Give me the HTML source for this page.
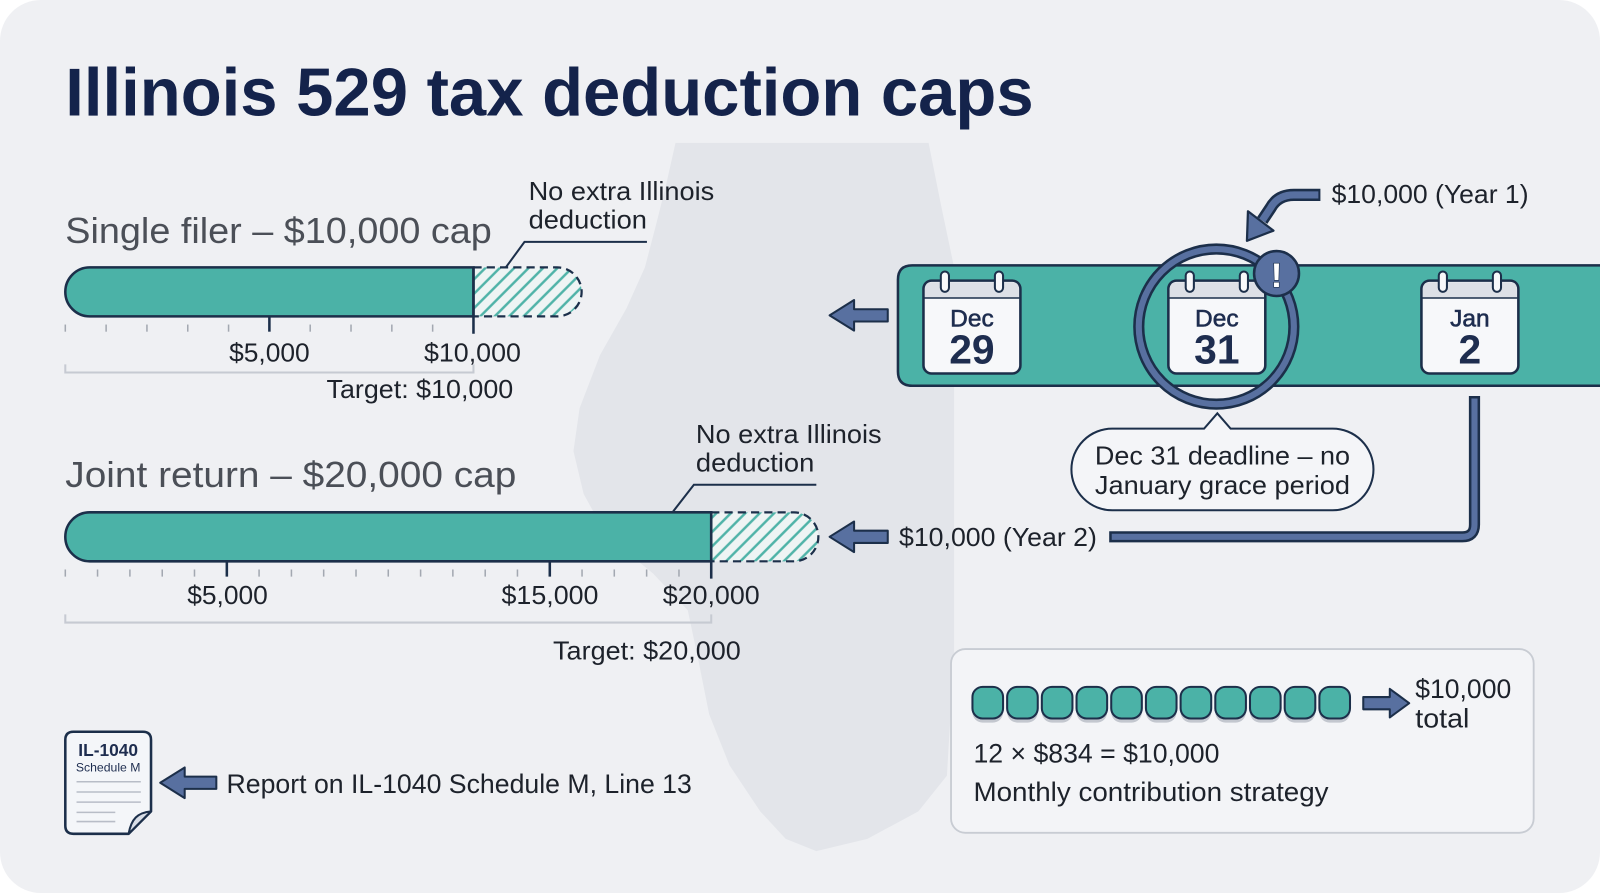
<!DOCTYPE html>
<html>
<head>
<meta charset="utf-8">
<style>
  html,body{margin:0;padding:0;background:#ffffff;}
  svg{display:block;}
  text{font-family:"Liberation Sans", Arial, sans-serif;}
</style>
</head>
<body>
<svg width="1600" height="893" viewBox="0 0 1568 875" preserveAspectRatio="none" xmlns="http://www.w3.org/2000/svg">
  <defs>
    <pattern id="hatch" patternUnits="userSpaceOnUse" width="10" height="10" patternTransform="rotate(45)">
      <rect width="10" height="10" fill="#eef4f4"/>
      <line x1="2" y1="0" x2="2" y2="10" stroke="#4fb3a8" stroke-width="2.4"/>
    </pattern>
  </defs>

  <!-- card background -->
  <rect x="0" y="0" width="1568" height="875" rx="40" fill="#eff0f3"/>

  <!-- Illinois silhouette -->
  <path d="M 662 140 L 910 140 L 922 200 L 935 262 L 935 640 L 928 760 L 900 795 L 850 822 L 800 834 L 770 822 L 745 795 L 715 750 L 695 700 L 684 645 L 674 598 L 640 562 L 594 524 L 572 484 L 562 442 L 568 400 L 588 348 L 614 302 L 632 262 L 643 220 L 653 180 Z" fill="#e3e5ea"/>

  <!-- Title -->
  <text x="64" y="113" font-size="66" font-weight="bold" fill="#14234b" textLength="949" lengthAdjust="spacingAndGlyphs">Illinois 529 tax deduction caps</text>

  <!-- ============ Single filer ============ -->
  <text x="64" y="238" font-size="35" fill="#4b4f57" textLength="418" lengthAdjust="spacingAndGlyphs">Single filer – $10,000 cap</text>

  <text x="518" y="196" font-size="25" fill="#1d222b" textLength="182" lengthAdjust="spacingAndGlyphs">No extra Illinois</text>
  <text x="518" y="224" font-size="25" fill="#1d222b" textLength="116" lengthAdjust="spacingAndGlyphs">deduction</text>
  <polyline points="634,237 514,237 495,263" fill="none" stroke="#1c2f4a" stroke-width="2"/>

  <path d="M 464 262 H 546 A 24 24 0 0 1 546 310 H 464" fill="url(#hatch)" stroke="#1c2f4a" stroke-width="2.2" stroke-dasharray="8 5"/>
  <path d="M 464 262 H 88 A 24 24 0 0 0 88 310 H 464 Z" fill="#4bb2a7" stroke="#1c2f4a" stroke-width="2.5"/>

  <g stroke="#a3a8b1" stroke-width="1.5">
    <line x1="64" y1="318" x2="64" y2="325"/>
    <line x1="104" y1="318" x2="104" y2="325"/>
    <line x1="144" y1="318" x2="144" y2="325"/>
    <line x1="184" y1="318" x2="184" y2="325"/>
    <line x1="224" y1="318" x2="224" y2="325"/>
    <line x1="304" y1="318" x2="304" y2="325"/>
    <line x1="344" y1="318" x2="344" y2="325"/>
    <line x1="384" y1="318" x2="384" y2="325"/>
    <line x1="424" y1="318" x2="424" y2="325"/>
  </g>
  <line x1="264" y1="310" x2="264" y2="325" stroke="#1c2f4a" stroke-width="2.5"/>
  <line x1="464" y1="262" x2="464" y2="327" stroke="#1c2f4a" stroke-width="2.5"/>

  <text x="264" y="354" font-size="25" fill="#1d222b" text-anchor="middle" textLength="79" lengthAdjust="spacingAndGlyphs">$5,000</text>
  <text x="463" y="354" font-size="25" fill="#1d222b" text-anchor="middle" textLength="95" lengthAdjust="spacingAndGlyphs">$10,000</text>

  <polyline points="64,357 64,365 464,365 464,357" fill="none" stroke="#c6cad2" stroke-width="2"/>
  <text x="320" y="390" font-size="25" fill="#1d222b" textLength="183" lengthAdjust="spacingAndGlyphs">Target: $10,000</text>

  <!-- ============ Joint return ============ -->
  <text x="64" y="477" font-size="35" fill="#4b4f57" textLength="442" lengthAdjust="spacingAndGlyphs">Joint return – $20,000 cap</text>

  <text x="682" y="434" font-size="25" fill="#1d222b" textLength="182" lengthAdjust="spacingAndGlyphs">No extra Illinois</text>
  <text x="682" y="462" font-size="25" fill="#1d222b" textLength="116" lengthAdjust="spacingAndGlyphs">deduction</text>
  <polyline points="800,475 680,475 659,502" fill="none" stroke="#1c2f4a" stroke-width="2"/>

  <path d="M 697 502 H 778 A 24 24 0 0 1 778 550 H 697" fill="url(#hatch)" stroke="#1c2f4a" stroke-width="2.2" stroke-dasharray="8 5"/>
  <path d="M 697 502 H 88 A 24 24 0 0 0 88 550 H 697 Z" fill="#4bb2a7" stroke="#1c2f4a" stroke-width="2.5"/>

  <g stroke="#a3a8b1" stroke-width="1.5">
    <line x1="64" y1="558" x2="64" y2="565"/>
    <line x1="95.6" y1="558" x2="95.6" y2="565"/>
    <line x1="127.3" y1="558" x2="127.3" y2="565"/>
    <line x1="159" y1="558" x2="159" y2="565"/>
    <line x1="190.6" y1="558" x2="190.6" y2="565"/>
    <line x1="253.9" y1="558" x2="253.9" y2="565"/>
    <line x1="285.6" y1="558" x2="285.6" y2="565"/>
    <line x1="317.2" y1="558" x2="317.2" y2="565"/>
    <line x1="348.9" y1="558" x2="348.9" y2="565"/>
    <line x1="380.5" y1="558" x2="380.5" y2="565"/>
    <line x1="412.2" y1="558" x2="412.2" y2="565"/>
    <line x1="443.8" y1="558" x2="443.8" y2="565"/>
    <line x1="475.5" y1="558" x2="475.5" y2="565"/>
    <line x1="507.1" y1="558" x2="507.1" y2="565"/>
    <line x1="570.4" y1="558" x2="570.4" y2="565"/>
    <line x1="602" y1="558" x2="602" y2="565"/>
    <line x1="633.7" y1="558" x2="633.7" y2="565"/>
    <line x1="665.4" y1="558" x2="665.4" y2="565"/>
  </g>
  <line x1="222.3" y1="550" x2="222.3" y2="565" stroke="#1c2f4a" stroke-width="2.5"/>
  <line x1="538.8" y1="550" x2="538.8" y2="565" stroke="#1c2f4a" stroke-width="2.5"/>
  <line x1="697" y1="502" x2="697" y2="567" stroke="#1c2f4a" stroke-width="2.5"/>

  <text x="223" y="592" font-size="25" fill="#1d222b" text-anchor="middle" textLength="79" lengthAdjust="spacingAndGlyphs">$5,000</text>
  <text x="539" y="592" font-size="25" fill="#1d222b" text-anchor="middle" textLength="95" lengthAdjust="spacingAndGlyphs">$15,000</text>
  <text x="697" y="592" font-size="25" fill="#1d222b" text-anchor="middle" textLength="95" lengthAdjust="spacingAndGlyphs">$20,000</text>

  <polyline points="64,602 64,610 697,610 697,602" fill="none" stroke="#c6cad2" stroke-width="2"/>
  <text x="542" y="646" font-size="25" fill="#1d222b" textLength="184" lengthAdjust="spacingAndGlyphs">Target: $20,000</text>

  <!-- ============ Calendar timeline ============ -->
  <path d="M 1580 260 H 894 Q 880 260 880 274 V 364 Q 880 378 894 378 H 1580" fill="#4bb2a7" stroke="#1c2f4a" stroke-width="2.5"/>

  <polygon points="813,309 837,294 837,303 870,303 870,315 837,315 837,324" fill="#5870a0" stroke="#1c2f4a" stroke-width="2" stroke-linejoin="round"/>

  <g>
    <rect x="905" y="275" width="95" height="91" rx="8" fill="#f7f8fa" stroke="#1c2f4a" stroke-width="2.5"/>
    <path d="M 906.5 292 V 283 Q 906.5 276.5 913 276.5 H 992 Q 998.5 276.5 998.5 283 V 292 Z" fill="#dde0e6"/>
    <line x1="906" y1="292" x2="999" y2="292" stroke="#1c2f4a" stroke-width="1.5"/>
    <rect x="922" y="266" width="8" height="20" rx="4" fill="#f7f8fa" stroke="#1c2f4a" stroke-width="2"/>
    <rect x="975" y="266" width="8" height="20" rx="4" fill="#f7f8fa" stroke="#1c2f4a" stroke-width="2"/>
    <text x="952.5" y="320" font-size="24" fill="#1e2d4f" stroke="#1e2d4f" stroke-width="0.6" text-anchor="middle">Dec</text>
    <text x="952.5" y="356" font-size="40" font-weight="bold" fill="#1e2d4f" text-anchor="middle">29</text>

    <rect x="1145" y="275" width="95" height="91" rx="8" fill="#f7f8fa" stroke="#1c2f4a" stroke-width="2.5"/>
    <path d="M 1146.5 292 V 283 Q 1146.5 276.5 1153 276.5 H 1232 Q 1238.5 276.5 1238.5 283 V 292 Z" fill="#dde0e6"/>
    <line x1="1146" y1="292" x2="1239" y2="292" stroke="#1c2f4a" stroke-width="1.5"/>
    <rect x="1162" y="266" width="8" height="20" rx="4" fill="#f7f8fa" stroke="#1c2f4a" stroke-width="2"/>
    <rect x="1215" y="266" width="8" height="20" rx="4" fill="#f7f8fa" stroke="#1c2f4a" stroke-width="2"/>
    <text x="1192.5" y="320" font-size="24" fill="#1e2d4f" stroke="#1e2d4f" stroke-width="0.6" text-anchor="middle">Dec</text>
    <text x="1192.5" y="356" font-size="40" font-weight="bold" fill="#1e2d4f" text-anchor="middle">31</text>

    <rect x="1393" y="275" width="95" height="91" rx="8" fill="#f7f8fa" stroke="#1c2f4a" stroke-width="2.5"/>
    <path d="M 1394.5 292 V 283 Q 1394.5 276.5 1401 276.5 H 1480 Q 1486.5 276.5 1486.5 283 V 292 Z" fill="#dde0e6"/>
    <line x1="1394" y1="292" x2="1487" y2="292" stroke="#1c2f4a" stroke-width="1.5"/>
    <rect x="1410" y="266" width="8" height="20" rx="4" fill="#f7f8fa" stroke="#1c2f4a" stroke-width="2"/>
    <rect x="1463" y="266" width="8" height="20" rx="4" fill="#f7f8fa" stroke="#1c2f4a" stroke-width="2"/>
    <text x="1440.5" y="320" font-size="24" fill="#1e2d4f" stroke="#1e2d4f" stroke-width="0.6" text-anchor="middle">Jan</text>
    <text x="1440.5" y="356" font-size="40" font-weight="bold" fill="#1e2d4f" text-anchor="middle">2</text>
  </g>

  <circle cx="1192" cy="320" r="76" fill="none" stroke="#1c2f4a" stroke-width="11"/>
  <circle cx="1192" cy="320" r="76" fill="none" stroke="#5870a0" stroke-width="6"/>

  <circle cx="1251" cy="268" r="22" fill="#5870a0" stroke="#1c2f4a" stroke-width="2.5"/>
  <text x="1251" y="281" font-size="34" font-weight="bold" fill="#ffffff" stroke="#1c2f4a" stroke-width="1.2" paint-order="stroke" text-anchor="middle">!</text>

  <path d="M 1294 191 L 1268 191 Q 1252 191 1245 204 L 1237 216" fill="none" stroke="#1c2f4a" stroke-width="12"/>
  <path d="M 1292 191 L 1268 191 Q 1252 191 1245 204 L 1237 216" fill="none" stroke="#5870a0" stroke-width="7"/>
  <polygon points="1222,236 1248,226 1223,207" fill="#5870a0" stroke="#1c2f4a" stroke-width="2.2" stroke-linejoin="round"/>
  <text x="1305" y="199" font-size="25" fill="#1d222b" textLength="193" lengthAdjust="spacingAndGlyphs">$10,000 (Year 1)</text>

  <path d="M 1090 420 H 1180 L 1193 405 L 1206 420 H 1306 A 40 40 0 0 1 1346 460 A 40 40 0 0 1 1306 500 H 1090 A 40 40 0 0 1 1050 460 A 40 40 0 0 1 1090 420 Z" fill="#f4f5f8" stroke="#1c2f4a" stroke-width="2"/>
  <text x="1198" y="455" font-size="25" fill="#1d222b" text-anchor="middle" textLength="250" lengthAdjust="spacingAndGlyphs">Dec 31 deadline – no</text>
  <text x="1198" y="484" font-size="25" fill="#1d222b" text-anchor="middle" textLength="250" lengthAdjust="spacingAndGlyphs">January grace period</text>

  <path d="M 1445 388 V 514 Q 1445 526 1433 526 H 1087" fill="none" stroke="#1c2f4a" stroke-width="11"/>
  <path d="M 1445 390.5 V 514 Q 1445 526 1433 526 H 1089.5" fill="none" stroke="#5870a0" stroke-width="6"/>

  <polygon points="813,526 837,511 837,520 870,520 870,532 837,532 837,541" fill="#5870a0" stroke="#1c2f4a" stroke-width="2" stroke-linejoin="round"/>
  <text x="881" y="535" font-size="25" fill="#1d222b" textLength="194" lengthAdjust="spacingAndGlyphs">$10,000 (Year 2)</text>

  <!-- ============ Document icon ============ -->
  <path d="M 72 717 H 140 Q 148 717 148 725 V 795 L 126 817 H 72 Q 64 817 64 809 V 725 Q 64 717 72 717 Z" fill="#f4f6f9" stroke="#1c2f4a" stroke-width="2.5" stroke-linejoin="round"/>
  <path d="M 148 795 L 126 817 Q 128 806 133 801 Q 138 796 148 795 Z" fill="#d9dee7" stroke="#1c2f4a" stroke-width="2" stroke-linejoin="round"/>
  <text x="106" y="741" font-size="17" font-weight="bold" fill="#1e2d4f" text-anchor="middle">IL-1040</text>
  <text x="106" y="756" font-size="12" fill="#1e2d4f" text-anchor="middle">Schedule M</text>
  <g stroke="#b8bdc7" stroke-width="1.5">
    <line x1="75" y1="766" x2="138" y2="766"/>
    <line x1="75" y1="776" x2="138" y2="776"/>
    <line x1="75" y1="786" x2="138" y2="786"/>
    <line x1="75" y1="796" x2="113" y2="796"/>
    <line x1="75" y1="805" x2="113" y2="805"/>
  </g>
  <polygon points="157,767 181,752 181,761 212,761 212,773 181,773 181,782" fill="#5870a0" stroke="#1c2f4a" stroke-width="2" stroke-linejoin="round"/>
  <text x="222" y="777" font-size="26" fill="#1d222b" textLength="456" lengthAdjust="spacingAndGlyphs">Report on IL-1040 Schedule M, Line 13</text>

  <!-- ============ Monthly strategy box ============ -->
  <rect x="932" y="636" width="571" height="180" rx="14" fill="#f3f4f7" stroke="#c8ccd3" stroke-width="1.8"/>
  <g>
    <g fill="#c3c7cf">
      <rect x="953" y="677" width="30" height="31" rx="10"/>
      <rect x="987" y="677" width="30" height="31" rx="10"/>
      <rect x="1021" y="677" width="30" height="31" rx="10"/>
      <rect x="1055" y="677" width="30" height="31" rx="10"/>
      <rect x="1089" y="677" width="30" height="31" rx="10"/>
      <rect x="1123" y="677" width="30" height="31" rx="10"/>
      <rect x="1157" y="677" width="30" height="31" rx="10"/>
      <rect x="1191" y="677" width="30" height="31" rx="10"/>
      <rect x="1225" y="677" width="30" height="31" rx="10"/>
      <rect x="1259" y="677" width="30" height="31" rx="10"/>
      <rect x="1293" y="677" width="30" height="31" rx="10"/>
    </g>
    <g fill="#4bb2a7" stroke="#1c2f4a" stroke-width="2">
      <rect x="953" y="673" width="30" height="31" rx="10"/>
      <rect x="987" y="673" width="30" height="31" rx="10"/>
      <rect x="1021" y="673" width="30" height="31" rx="10"/>
      <rect x="1055" y="673" width="30" height="31" rx="10"/>
      <rect x="1089" y="673" width="30" height="31" rx="10"/>
      <rect x="1123" y="673" width="30" height="31" rx="10"/>
      <rect x="1157" y="673" width="30" height="31" rx="10"/>
      <rect x="1191" y="673" width="30" height="31" rx="10"/>
      <rect x="1225" y="673" width="30" height="31" rx="10"/>
      <rect x="1259" y="673" width="30" height="31" rx="10"/>
      <rect x="1293" y="673" width="30" height="31" rx="10"/>
    </g>
  </g>
  <polygon points="1381,689 1362,675 1362,683 1336,683 1336,695 1362,695 1362,703" fill="#5870a0" stroke="#1c2f4a" stroke-width="2" stroke-linejoin="round"/>
  <text x="1387" y="684" font-size="26" fill="#1d222b" textLength="94" lengthAdjust="spacingAndGlyphs">$10,000</text>
  <text x="1387" y="713" font-size="26" fill="#1d222b" textLength="53" lengthAdjust="spacingAndGlyphs">total</text>
  <text x="954" y="747" font-size="26" fill="#1d222b" textLength="241" lengthAdjust="spacingAndGlyphs">12 × $834 = $10,000</text>
  <text x="954" y="785" font-size="26" fill="#1d222b" textLength="348" lengthAdjust="spacingAndGlyphs">Monthly contribution strategy</text>
</svg>
</body>
</html>
